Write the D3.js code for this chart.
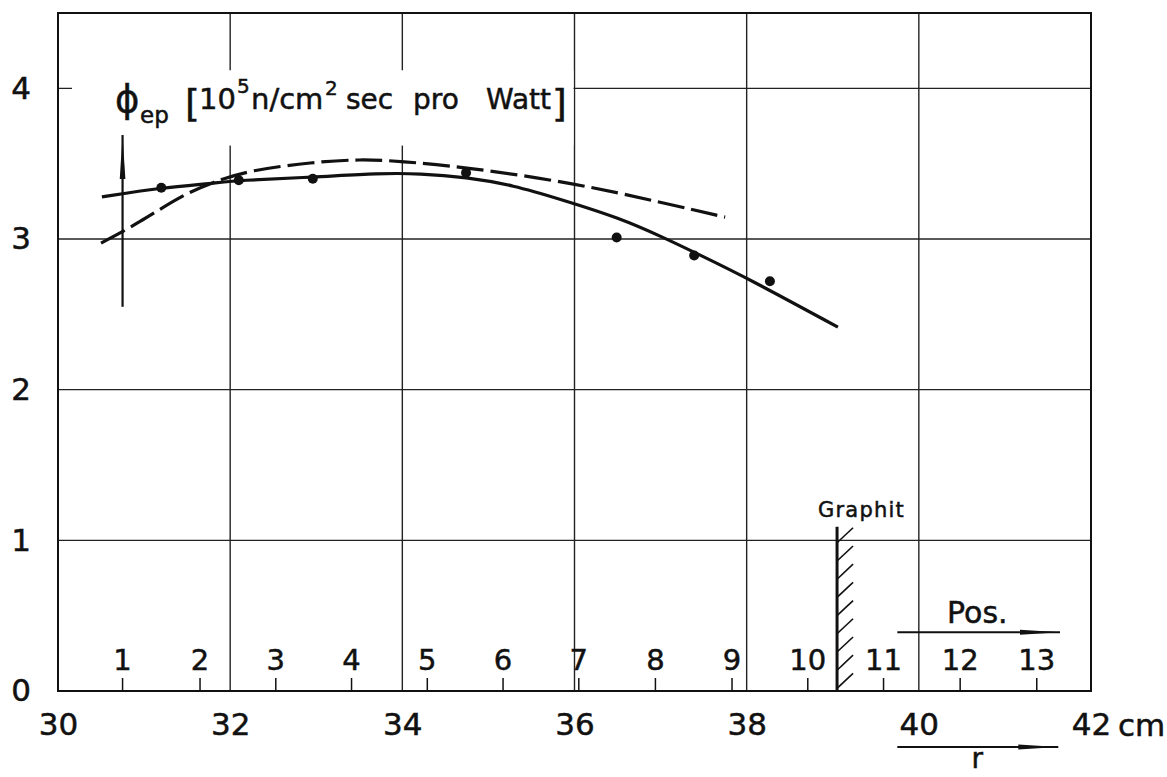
<!DOCTYPE html>
<html>
<head>
<meta charset="utf-8">
<script src="https://cdn.jsdelivr.net/npm/d3@7"></script>
<style>
  html, body { margin: 0; padding: 0; background: #fff; }
  svg { display: block; }
  text { font-family: "DejaVu Sans", sans-serif; fill: #111; stroke: #111; stroke-width: 0.5px; }
</style>
</head>
<body>
<svg id="chart" width="1167" height="777"></svg>
<script>
// Radius axis (cm) and flux axis values
const rTicks = [30, 32, 34, 36, 38, 40, 42];
const phiTicks = [0, 1, 2, 3, 4];

// Measuring positions 1..13 along r
const positionLabels = ["1","2","3","4","5","6","7","8","9","10","11","12","13"];
const positionR = [30.75, 31.65, 32.53, 33.41, 34.29, 35.17, 36.05, 36.94, 37.83, 38.71, 39.59, 40.48, 41.37];

// Measured flux values
const pointR   = [31.20, 32.10, 32.96, 34.74, 36.49, 37.39, 38.27];
const pointPhi = [3.34, 3.39, 3.40, 3.44, 3.01, 2.89, 2.72];

// Fitted curve (solid)
const solidR   = [30.51, 31.20, 31.80, 32.10, 32.96, 33.74, 34.20, 34.74, 35.29, 35.83, 36.53, 37.05, 37.46, 38.01, 39.06];
const solidPhi = [3.28, 3.34, 3.37, 3.39, 3.41, 3.437, 3.435, 3.41, 3.357, 3.265, 3.139, 3.006, 2.893, 2.74, 2.415];

// Calculated curve (dashed)
const dashedR   = [30.50, 30.95, 31.42, 31.80, 32.23, 32.96, 33.51, 33.97, 34.74, 36.00, 36.99, 37.75];
const dashedPhi = [2.973, 3.11, 3.285, 3.378, 3.457, 3.51, 3.53, 3.517, 3.477, 3.371, 3.245, 3.145];

// Graphite boundary position
const graphitR = 39.05;

const svg = d3.select("#chart");
const x = d3.scaleLinear().domain([30, 42]).range([58, 1091]);
const y = d3.scaleLinear().domain([0, 4.5]).range([691, 13]);
const ink = "#111";

// grid
const grid = svg.append("g").attr("stroke", "#222").attr("stroke-width", 1.4);
grid.selectAll("line.v").data(rTicks.slice(1, -1)).join("line")
  .attr("x1", d => x(d)).attr("x2", d => x(d))
  .attr("y1", y(4.5)).attr("y2", y(0));
grid.selectAll("line.h").data(phiTicks.slice(1)).join("line")
  .attr("x1", x(30)).attr("x2", x(42))
  .attr("y1", d => y(d)).attr("y2", d => y(d));

// cleared area behind the axis title
svg.append("rect")
  .attr("x", x(30) + 14).attr("y", y(4.12))
  .attr("width", x(36) - 1 - (x(30) + 14)).attr("height", y(3.62) - y(4.12))
  .attr("fill", "#fff");

// frame
svg.append("rect")
  .attr("x", x(30)).attr("y", y(4.5))
  .attr("width", x(42) - x(30)).attr("height", y(0) - y(4.5))
  .attr("fill", "none").attr("stroke", ink).attr("stroke-width", 2);

// axes labels
const xAxis = d3.axisBottom(x).tickValues(rTicks).tickSize(0).tickPadding(22).tickFormat(d3.format("d"));
const gx = svg.append("g").attr("transform", `translate(0,${y(0)})`).call(xAxis);
gx.select(".domain").remove();
gx.selectAll("text").attr("font-size", 31).attr("font-family", "DejaVu Sans").attr("fill", ink);
svg.append("text").attr("x", x(42) + 27).attr("y", y(0) + 45)
  .attr("font-size", 31).text("cm");

const yAxis = d3.axisLeft(y).tickValues(phiTicks).tickSize(0).tickFormat(d3.format("d"));
const gy = svg.append("g").attr("transform", `translate(${x(30)},0)`).call(yAxis);
gy.select(".domain").remove();
gy.selectAll("text").attr("font-size", 31).attr("font-family", "DejaVu Sans").attr("fill", ink)
  .attr("text-anchor", "middle").attr("x", -37);

// position ticks and numbers
const pos = svg.append("g");
pos.selectAll("line").data(positionR).join("line")
  .attr("x1", d => x(d)).attr("x2", d => x(d))
  .attr("y1", y(0)).attr("y2", y(0) - 13)
  .attr("stroke", ink).attr("stroke-width", 1.5);
pos.selectAll("text").data(positionR).join("text")
  .attr("x", d => x(d)).attr("y", y(0) - 21)
  .attr("text-anchor", "middle").attr("font-size", 29)
  .text((d, i) => positionLabels[i]);

// graphite wall with hatching
const gw = x(graphitR);
const gTop = y(1.09);
svg.append("clipPath").attr("id", "hatchClip")
  .append("rect").attr("x", gw).attr("y", gTop).attr("width", 18).attr("height", y(0) - gTop);
const hatchStarts = d3.range(gTop + 16, y(0) + 20, 18.2);
svg.append("g").attr("clip-path", "url(#hatchClip)")
  .selectAll("line").data(hatchStarts).join("line")
  .attr("x1", gw).attr("y1", d => d)
  .attr("x2", gw + 16).attr("y2", d => d - 15)
  .attr("stroke", ink).attr("stroke-width", 1.6);
svg.append("line")
  .attr("x1", gw).attr("x2", gw).attr("y1", gTop).attr("y2", y(0))
  .attr("stroke", ink).attr("stroke-width", 3);
svg.append("text").attr("x", gw - 19).attr("y", gTop - 10)
  .attr("font-size", 21).attr("letter-spacing", 1.2).text("Graphit");

// arrow helper: shaft plus slim filled head
function arrow(x1, y1, x2, y2, headLen, headW) {
  const g = svg.append("g");
  g.append("line").attr("x1", x1).attr("y1", y1).attr("x2", x2).attr("y2", y2)
    .attr("stroke", ink).attr("stroke-width", 2.2);
  const dx = x2 - x1, dy = y2 - y1, L = Math.hypot(dx, dy);
  const ux = dx / L, uy = dy / L;
  const bx = x2 - ux * headLen, by = y2 - uy * headLen;
  g.append("path")
    .attr("d", `M${x2},${y2}L${bx - uy * headW},${by + ux * headW}L${bx + uy * headW},${by - ux * headW}Z`)
    .attr("fill", ink);
}

// Pos. arrow
arrow(x(39.75), y(0.39), x(41.64), y(0.39), 40, 2.6);
svg.append("text").attr("x", x(40.68)).attr("y", y(0.45)).attr("text-anchor", "middle")
  .attr("font-size", 30).text("Pos.");

// r arrow below axis
arrow(x(39.75), y(0) + 56, x(41.62), y(0) + 56, 40, 2.6);
svg.append("text").attr("x", x(40.68)).attr("y", y(0) + 77).attr("text-anchor", "middle")
  .attr("font-size", 28).text("r");

// flux axis arrow at position 1
arrow(x(positionR[0]), y(2.55), x(positionR[0]), y(3.69), 44, 2.8);

// axis title
const t = svg.append("g");
t.append("text").attr("x", 115).attr("y", 112).attr("font-size", 37).text("\u03D5");
t.append("text").attr("x", 140).attr("y", 123).attr("font-size", 23).text("ep");
t.append("text").attr("x", 185).attr("y", 116).attr("font-size", 38).attr("stroke-width", 0).text("[");
t.append("text").attr("x", 199).attr("y", 109).attr("font-size", 29).text("10");
t.append("text").attr("x", 237).attr("y", 93).attr("font-size", 20).text("5");
t.append("text").attr("x", 251).attr("y", 109).attr("font-size", 29).text("n/cm");
t.append("text").attr("x", 325).attr("y", 95).attr("font-size", 20).text("2");
t.append("text").attr("x", 346).attr("y", 109).attr("font-size", 28).text("sec");
t.append("text").attr("x", 413).attr("y", 109).attr("font-size", 28).text("pro");
t.append("text").attr("x", 486).attr("y", 109).attr("font-size", 28).text("Watt");
t.append("text").attr("x", 552).attr("y", 116).attr("font-size", 38).attr("stroke-width", 0).text("]");

// curves
const line = d3.line().x(d => x(d[0])).y(d => y(d[1])).curve(d3.curveBasis);
svg.append("path").datum(dashedR.map((r, i) => [r, dashedPhi[i]]))
  .attr("d", line).attr("fill", "none").attr("stroke", ink)
  .attr("stroke-width", 3.2).attr("stroke-dasharray", "27 7");
svg.append("path").datum(solidR.map((r, i) => [r, solidPhi[i]]))
  .attr("d", line).attr("fill", "none").attr("stroke", ink)
  .attr("stroke-width", 3.2);

// measured points
svg.append("g").selectAll("circle").data(pointR).join("circle")
  .attr("cx", d => x(d)).attr("cy", (d, i) => y(pointPhi[i]))
  .attr("r", 5).attr("fill", ink);
</script>
</body>
</html>
